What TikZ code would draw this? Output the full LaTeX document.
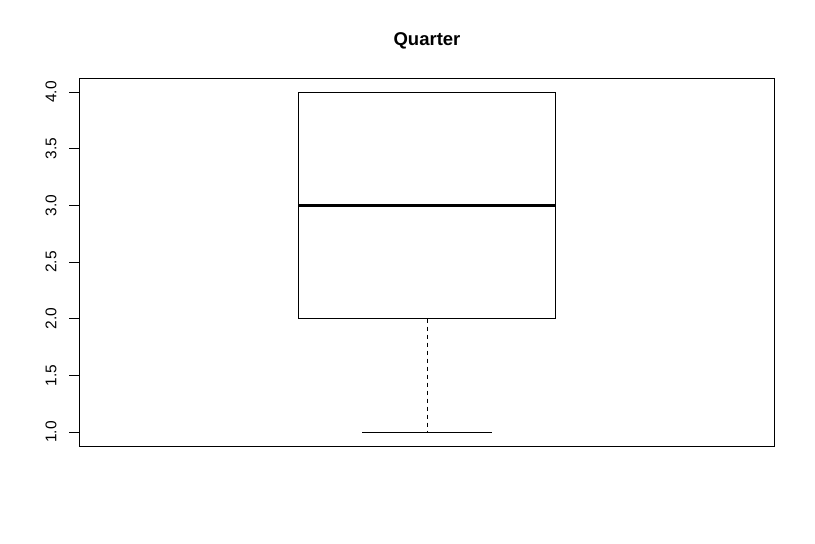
\documentclass[tikz,border=0pt]{standalone}
\usepackage{fontspec}
\setmainfont{Liberation Sans}
\usetikzlibrary{positioning}

\tikzset{
    ticklab/.style={rotate=90, font=\fontsize{15.5}{15.5}\selectfont, inner sep=0pt},
    whisk/.style={line width=0.9pt, dash pattern=on 4pt off 4pt}
}

\begin{document}
\begin{tikzpicture}[x=1pt, y=-1pt, line width=0.9pt]
    \useasboundingbox (0,0) rectangle (815,544);

    % title
    \node[font=\fontsize{18.5}{18.5}\selectfont\bfseries] (title) at (427,41) {Quarter};

    % plot frame
    \draw (79,78) rectangle (774,446);

    % y axis ticks and labels
    \foreach \v/\ypos in {1.0/432, 1.5/375.3, 2.0/318.7, 2.5/262, 3.0/205.3, 3.5/148.7, 4.0/92} {
        \draw (79,\ypos) -- (69,\ypos);
        \node[ticklab] at (51,\ypos) {\v};
    }

    % box
    \draw (298,92) rectangle (555,318.7);
    \draw[line width=3pt] (298,205.3) -- (555,205.3);

    % whiskers
    \draw[whisk] (427,318.7) -- (427,432);
    \draw (362,432) -- (492,432);
    \draw (362,92) -- (492,92);
\end{tikzpicture}
\end{document}
